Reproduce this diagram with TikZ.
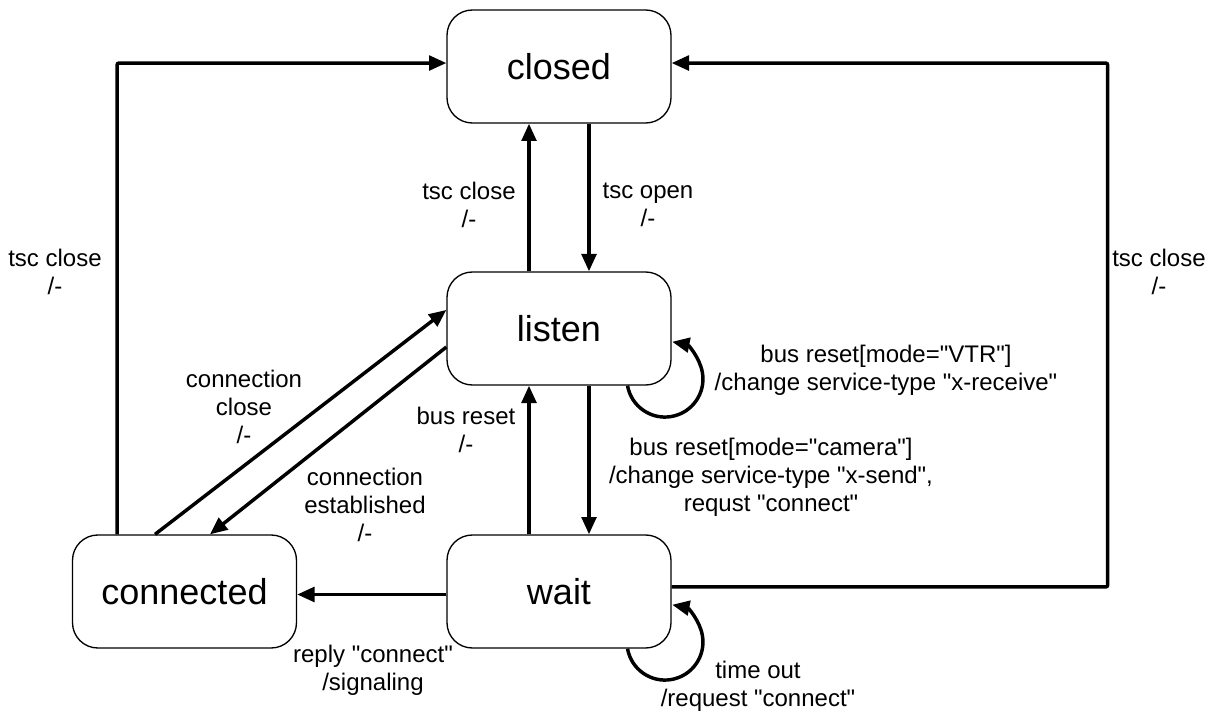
\documentclass[tikz,border=0pt]{standalone}
\usepackage{fontspec}
\setmainfont{Liberation Sans}
\usetikzlibrary{arrows.meta}
\newcommand{\qmark}{\XeTeXglyph\XeTeXcharglyph"22\relax}
\begin{document}
\begin{tikzpicture}[x=0.75pt,y=-0.75pt,
  state/.style={draw, line width=1pt, rounded corners=19pt, minimum width=168pt, minimum height=84.75pt, inner sep=0pt, font=\fontsize{27}{32}\selectfont},
  conn/.style={line width=2.6pt, rounded corners=1.5pt, -{Triangle[length=13pt,width=11pt]}},
  lbl/.style={align=center, font=\fontsize{18}{21}\selectfont, inner sep=0pt}]
\useasboundingbox (0,0) rectangle (1208,713);

% states
\node[state] (closed) at (559,66.5) {closed};
\node[state] (listen) at (559,328.5) {listen};
\node[state] (wait) at (559,591.5) {wait};
\node[state] (connected) at (184.5,591.5) {connected};

% connectors
\draw[conn] ([xshift=-50.6pt]connected.north) |- ([yshift=2.6pt]closed.west);
\draw[conn] ([yshift=3.4pt]wait.east) -- ++(327pt,0) |- ([yshift=2.6pt]closed.east);
\draw[conn] ([xshift=22.5pt]closed.south) -- ([xshift=22.5pt]listen.north);
\draw[conn] ([xshift=-22.5pt]listen.north) -- ([xshift=-22.5pt]closed.south);
\draw[conn] ([xshift=22.5pt]listen.south) -- ([xshift=22.5pt]wait.north);
\draw[conn] ([xshift=-22.5pt]wait.north) -- ([xshift=-22.5pt]listen.south);
\draw[conn] ([yshift=-2.25pt]wait.west) -- ([yshift=-2.25pt]connected.east);
\draw[conn] ([xshift=-22.1pt]connected.north) -- ([yshift=13.9pt]listen.west);
\draw[conn] ([yshift=-13.9pt]listen.west) -- ([xshift=19.1pt]connected.north);
\draw[conn] ([xshift=51.4pt]listen.south) arc[start angle=190, end angle=439, radius=28.5pt];
\draw[conn] ([xshift=51.4pt]wait.south) arc[start angle=190, end angle=439, radius=28.5pt];

% labels
\node[lbl] (lL) at (55,272) {tsc close\\/-};
\node[lbl] (lR) at (1159,272) {tsc close\\/-};
\node[lbl] (lCC) at (469,205) {tsc close\\/-};
\node[lbl] (lCO) at (648,205) {tsc open\\/-};
\node[lbl] (lVTR) at (886,370) {bus reset[mode=\qmark VTR\qmark]\\/change service-type \qmark x-receive\qmark};
\node[lbl] (lCam) at (771,477) {bus reset[mode=\qmark camera\qmark]\\/change service-type \qmark x-send\qmark,\\requst \qmark connect\qmark};
\node[lbl] (lBR) at (466,430) {bus reset\\/-};
\node[lbl] (lClose) at (244,407) {connection\\close\\/-};
\node[lbl] (lEst) at (365,505) {connection\\established\\/-};
\node[lbl] (lReply) at (373,670) {reply \qmark connect\qmark\\/signaling};
\node[lbl] (lTime) at (758,686) {time out\\/request \qmark connect\qmark};
\end{tikzpicture}
\end{document}
